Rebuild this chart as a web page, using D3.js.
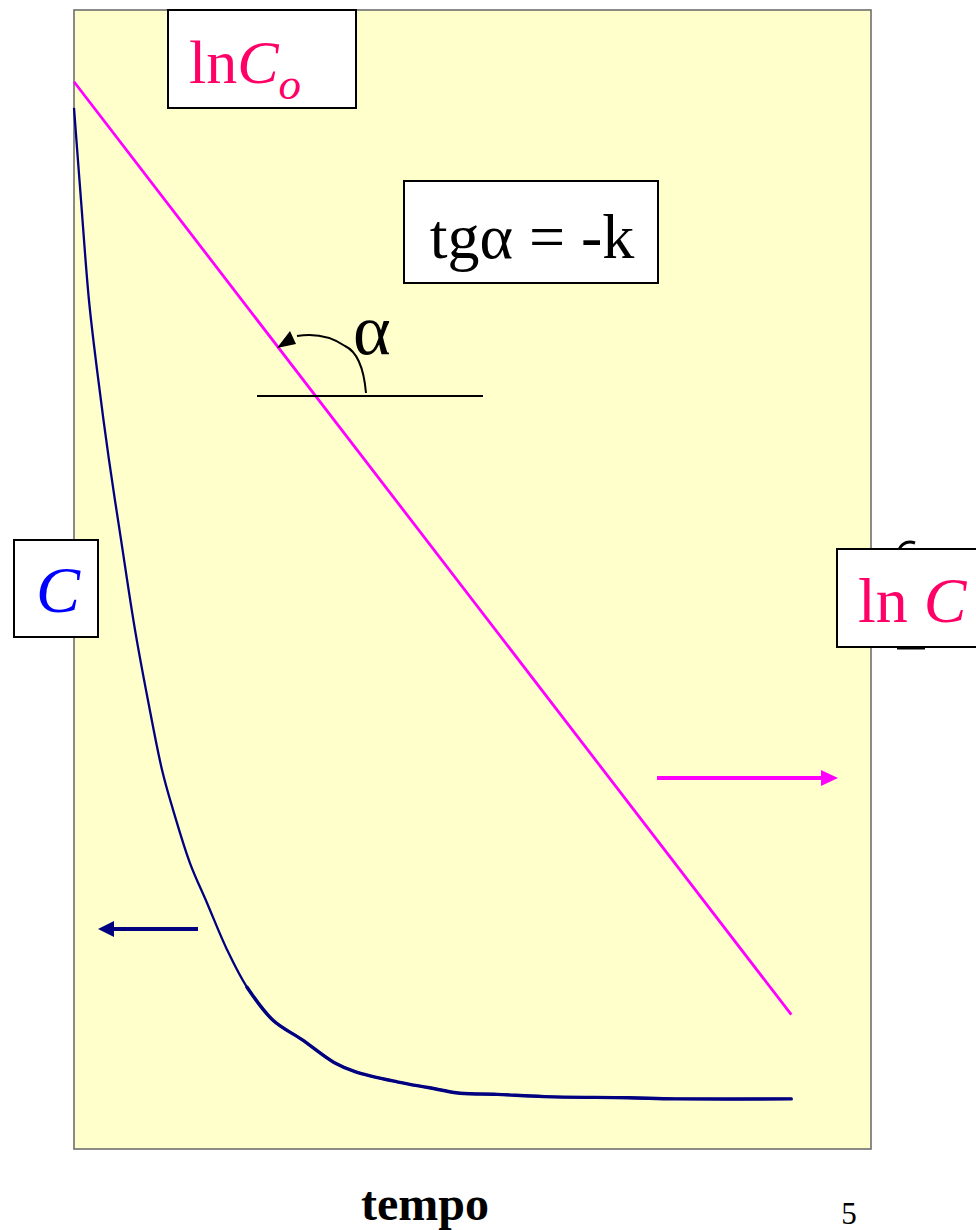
<!DOCTYPE html>
<html>
<head>
<meta charset="utf-8">
<script src="https://cdn.jsdelivr.net/npm/d3@7"></script>
<style>
  html, body { margin: 0; padding: 0; background: #fff; }
  svg { display: block; }
  text { font-family: "Liberation Serif", "Times New Roman", serif; }
</style>
</head>
<body>
<div id="chart"></div>
<script>
// first-order decay: C(t) and ln C(t) against tempo
const tempo = [0, 0.088, 0.188, 0.289, 0.439, 0.59, 0.765, 0.928, 1.104, 1.242, 1.455, 1.669, 1.92, 2.171,
  2.497, 2.861, 3.262, 3.526, 4.053, 4.442, 4.843, 5.307, 5.897, 6.951, 7.553, 9.0];
const concC = [91.4, 83.3, 74.5, 68.4, 60.5, 53.5, 45.6, 39.4, 33.3, 29.8, 25.1, 21.6, 17.5, 14.2,
  11.3, 9.6, 7.6, 6.8, 5.9, 5.4, 4.9, 4.8, 4.6, 4.5, 4.4, 4.4];
const lnTempo = [0, 9.0];
const lnC = [93.7, 11.8];

const W = 976, H = 1230;
const plot = { left: 74, top: 10, right: 871, bottom: 1149 };

const svg = d3.select("#chart").append("svg")
  .attr("width", W).attr("height", H);

const x = d3.scaleLinear().domain([0, 10]).range([plot.left, plot.right]);
const y = d3.scaleLinear().domain([0, 100]).range([plot.bottom, plot.top]);

// plot background
svg.append("rect")
  .attr("x", plot.left).attr("y", plot.top)
  .attr("width", plot.right - plot.left).attr("height", plot.bottom - plot.top)
  .attr("fill", "#ffffcc")
  .attr("stroke", "#6e6e6e")
  .attr("stroke-width", 1.6);

// odd glyph sitting behind the right label
svg.append("path")
  .attr("d", "M898,556 C898,545 906,540 915,543")
  .attr("fill", "none").attr("stroke", "#000").attr("stroke-width", 3);
svg.append("line")
  .attr("x1", 897).attr("x2", 925).attr("y1", 648).attr("y2", 648)
  .attr("stroke", "#000").attr("stroke-width", 3);

// curves
const pts = tempo.map((t, i) => [t, concC[i]]);
const line = d3.line().x(d => x(d[0])).y(d => y(d[1])).curve(d3.curveCatmullRom.alpha(0.5));

svg.append("path")
  .datum(pts)
  .attr("fill", "none")
  .attr("stroke", "#000080")
  .attr("stroke-width", 2.3)
  .attr("d", line);

svg.append("path")
  .datum(pts.slice(13))
  .attr("fill", "none")
  .attr("stroke", "#000080")
  .attr("stroke-width", 3.4)
  .attr("stroke-linecap", "round")
  .attr("d", line);

svg.append("path")
  .datum(lnTempo.map((t, i) => [t, lnC[i]]))
  .attr("fill", "none")
  .attr("stroke", "#ff00ff")
  .attr("stroke-width", 2.8)
  .attr("d", d3.line().x(d => x(d[0])).y(d => y(d[1])));

// angle construction
svg.append("line")
  .attr("x1", 257).attr("x2", 483).attr("y1", 396).attr("y2", 396)
  .attr("stroke", "#000").attr("stroke-width", 2.2);

svg.append("path")
  .attr("d", "M366,393 C364,370 358,352 345,346 C332,337 316,333 297,336")
  .attr("fill", "none").attr("stroke", "#000").attr("stroke-width", 2);
svg.append("path")
  .attr("d", "M277,348 L290,331 L296,344 z")
  .attr("fill", "#000");

svg.append("text")
  .attr("x", 353).attr("y", 354)
  .attr("font-size", 72)
  .text("α");

// arrows pointing to their axes
svg.append("line")
  .attr("x1", 657).attr("x2", 824).attr("y1", 778).attr("y2", 778)
  .attr("stroke", "#ff00ff").attr("stroke-width", 4);
svg.append("path")
  .attr("d", "M821,770 L838,778 L821,786 z")
  .attr("fill", "#ff00ff");

svg.append("line")
  .attr("x1", 198).attr("x2", 110).attr("y1", 929).attr("y2", 929)
  .attr("stroke", "#000080").attr("stroke-width", 4);
svg.append("path")
  .attr("d", "M114,921 L98,929 L114,937 z")
  .attr("fill", "#000080");

// label boxes
function box(x0, y0, w, h) {
  svg.append("rect")
    .attr("x", x0).attr("y", y0).attr("width", w).attr("height", h)
    .attr("fill", "#fff").attr("stroke", "#000").attr("stroke-width", 2);
}

const pink = "#ff0066";

box(168, 10, 188, 98);
const t1 = svg.append("text").attr("x", 189).attr("y", 83).attr("font-size", 62).attr("fill", pink);
t1.append("tspan").text("ln");
t1.append("tspan").attr("font-style", "italic").text("C");
t1.append("tspan").attr("font-style", "italic").attr("font-size", 45).attr("dy", 16).text("o");

box(404, 181, 254, 102);
svg.append("text")
  .attr("x", 532).attr("y", 258)
  .attr("text-anchor", "middle")
  .attr("font-size", 64)
  .attr("fill", "#000")
  .text("tgα = -k");

box(14, 540, 84, 97);
svg.append("text")
  .attr("x", 58).attr("y", 612)
  .attr("text-anchor", "middle")
  .attr("font-size", 66)
  .attr("font-style", "italic")
  .attr("fill", "#0000ff")
  .text("C");

box(837, 549, 150, 98);
const t2 = svg.append("text").attr("x", 858).attr("y", 622).attr("font-size", 64).attr("fill", pink);
t2.append("tspan").text("ln ");
t2.append("tspan").attr("font-style", "italic").text("C");

// axis title and page number
svg.append("text")
  .attr("x", 425).attr("y", 1220)
  .attr("text-anchor", "middle")
  .attr("font-size", 48)
  .attr("font-weight", "bold")
  .text("tempo");

svg.append("text")
  .attr("x", 849).attr("y", 1224)
  .attr("text-anchor", "middle")
  .attr("font-size", 31)
  .text("5");
</script>
</body>
</html>
